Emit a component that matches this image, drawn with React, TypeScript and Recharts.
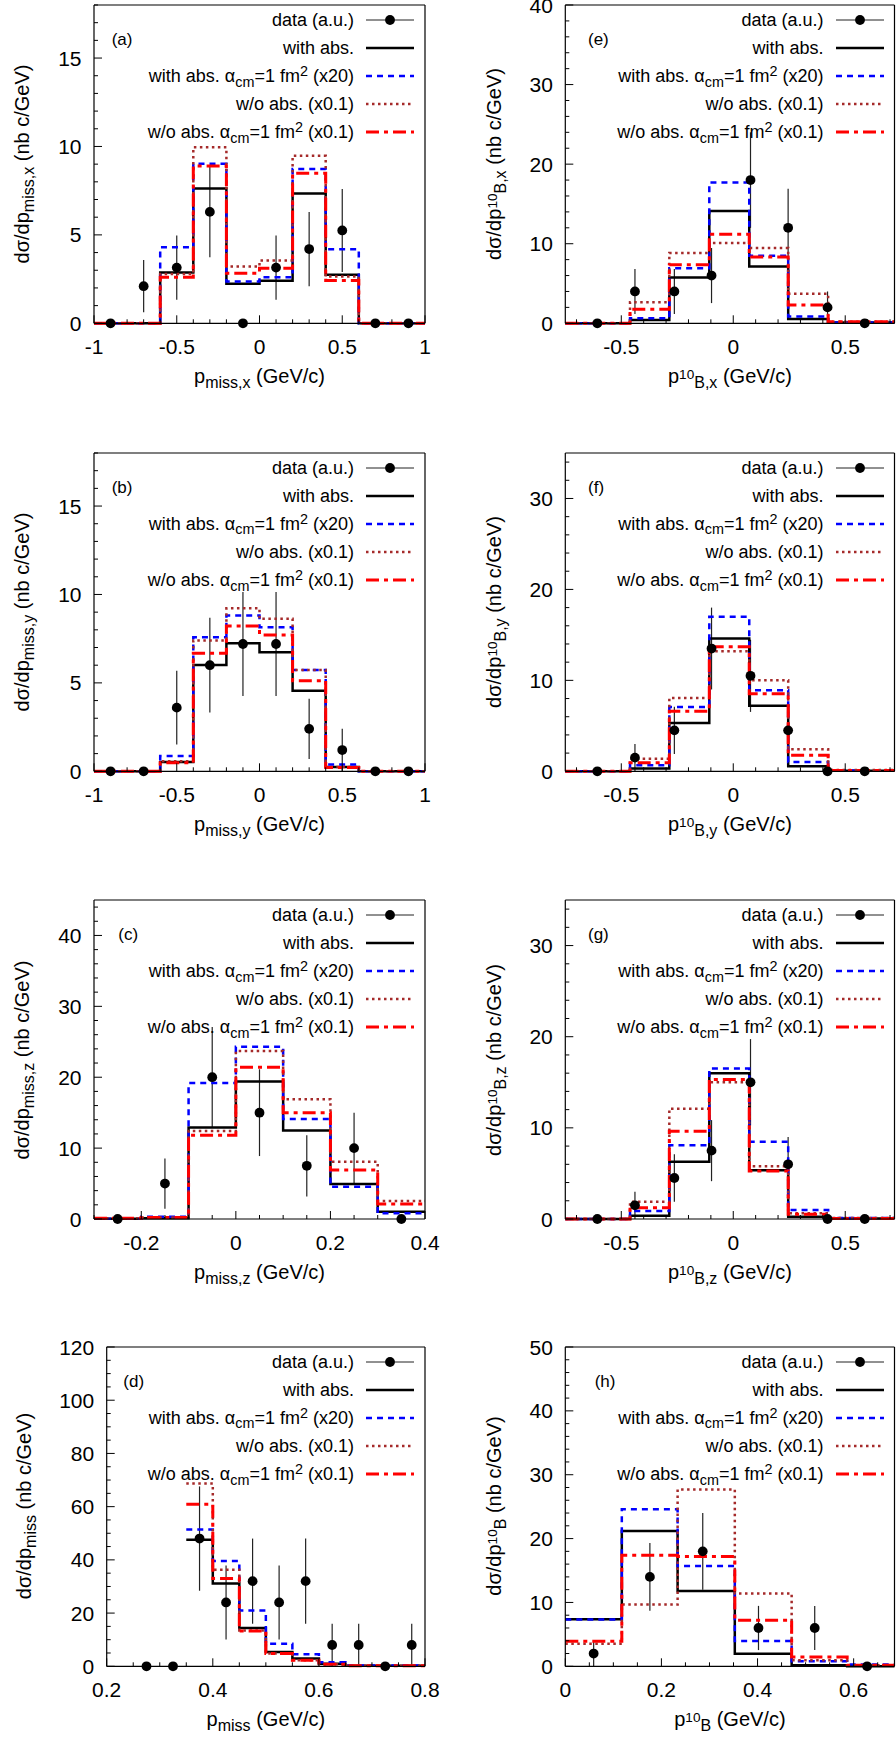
import React from 'react';
import { ComposedChart, Line, Scatter, ErrorBar, XAxis, YAxis } from 'recharts';

const FONT = '"Liberation Sans", Arial, Helvetica, sans-serif';

// key entries, gnuplot-like markup: _{sub} ^{sup}, ~{small raised prefix}
const seriesNames = [
  'data (a.u.)',
  'with abs.',
  'with abs. α_{cm}=1 fm^{2} (x20)',
  'w/o abs. (x0.1)',
  'w/o abs. α_{cm}=1 fm^{2} (x0.1)',
];

// (a) p_miss,x
const aEdges = [-1, -0.6, -0.4, -0.2, 0, 0.2, 0.4, 0.6, 1];
const aWith = [0, 2.87, 7.62, 2.23, 2.4, 7.34, 2.74, 0];
const aWithCm = [0, 4.3, 9.02, 2.36, 2.6, 8.72, 4.19, 0];
const aWo = [0, 2.79, 9.96, 3.21, 3.55, 9.47, 2.64, 0];
const aWoCm = [0, 2.6, 8.9, 2.83, 3.11, 8.49, 2.42, 0];
const aDataX = [-0.9, -0.7, -0.5, -0.3, -0.1, 0.1, 0.3, 0.5, 0.7, 0.9];
const aDataY = [0, 2.1, 3.15, 6.3, 0, 3.15, 4.2, 5.25, 0, 0];
const aDataErr = [0, 1.48, 1.82, 2.57, 0, 1.82, 2.1, 2.35, 0, 0];

// (b) p_miss,y
const bEdges = [-1, -0.6, -0.4, -0.2, 0, 0.2, 0.4, 0.6, 1];
const bWith = [0, 0.53, 6.01, 7.24, 6.73, 4.56, 0.25, 0];
const bWithCm = [0, 0.87, 7.58, 8.81, 8.15, 5.73, 0.38, 0];
const bWo = [0, 0.57, 7.39, 9.22, 8.62, 5.73, 0.25, 0];
const bWoCm = [0, 0.49, 6.67, 8.22, 7.71, 5.12, 0.21, 0];
const bDataX = [-0.9, -0.7, -0.5, -0.3, -0.1, 0.1, 0.3, 0.5, 0.7, 0.9];
const bDataY = [0, 0, 3.6, 6.0, 7.2, 7.2, 2.4, 1.2, 0, 0];
const bDataErr = [0, 0, 2.08, 2.68, 2.94, 2.94, 1.7, 1.2, 0, 0];

// (c) p_miss,z
const cEdges = [-0.3, -0.2, -0.1, 0, 0.1, 0.2, 0.3, 0.4];
const cWith = [0.05, 0.1, 12.9, 19.4, 12.5, 4.93, 1.03];
const cWithCm = [0.05, 0.33, 19.2, 24.3, 14.1, 4.55, 0.8];
const cWo = [0.1, 0.2, 12.4, 23.7, 16.9, 8.08, 2.54];
const cWoCm = [0.1, 0.2, 11.8, 21.4, 15.0, 6.9, 2.1];
const cDataX = [-0.25, -0.15, -0.05, 0.05, 0.15, 0.25, 0.35];
const cDataY = [0, 5, 20, 15, 7.5, 10, 0];
const cDataErr = [0, 3.54, 7.07, 6.12, 4.33, 5, 0];

// (d) p_miss
const dEdges = [0.35, 0.4, 0.45, 0.5, 0.55, 0.6, 0.65, 0.8];
const dWith = [47.6, 31.1, 14.4, 5.4, 2.9, 1.0, 0.2];
const dWithCm = [51.4, 39.6, 21.0, 8.5, 4.5, 1.5, 0.3];
const dWo = [68.7, 36.3, 13.5, 4.8, 2.3, 0.8, 0.2];
const dWoCm = [60.9, 33.0, 13.3, 4.8, 2.3, 0.8, 0.2];
const dDataX = [0.275, 0.325, 0.375, 0.425, 0.475, 0.525, 0.575, 0.625, 0.675, 0.725, 0.775];
const dDataY = [0, 0, 48, 24, 32, 24, 32, 8, 8, 0, 8];
const dDataErr = [0, 0, 19.6, 13.9, 16, 13.9, 16, 8, 8, 0, 8];

// (e) p_10B,x
const eEdges = [-0.75, -0.461, -0.2855, -0.107, 0.0714, 0.2453, 0.4237, 0.72];
const eWith = [0, 0.42, 5.76, 14.1, 7.14, 0.55, 0.1];
const eWithCm = [0, 0.63, 6.93, 17.7, 8.49, 0.84, 0.1];
const eWo = [0, 2.65, 8.82, 10.1, 9.45, 3.7, 0.2];
const eWoCm = [0, 1.76, 7.35, 11.2, 8.32, 2.31, 0.2];
const eDataX = [-0.607, -0.439, -0.263, -0.097, 0.077, 0.245, 0.421, 0.587];
const eDataY = [0, 4, 4, 6, 18, 12, 2, 0];
const eDataErr = [0, 2.83, 2.83, 3.46, 6, 4.9, 2, 0];

// (f) p_10B,y
const fEdges = [-0.75, -0.461, -0.2855, -0.107, 0.0714, 0.2453, 0.4237, 0.72];
const fWith = [0, 0.3, 5.3, 14.6, 7.2, 0.55, 0.05];
const fWithCm = [0, 0.66, 7.07, 17.0, 8.9, 1.03, 0.1];
const fWo = [0, 1.39, 8.06, 13.2, 10.0, 2.42, 0.15];
const fWoCm = [0, 0.95, 6.6, 13.7, 8.53, 1.76, 0.1];
const fDataX = [-0.607, -0.439, -0.263, -0.097, 0.077, 0.245, 0.421, 0.587];
const fDataY = [0, 1.5, 4.5, 13.5, 10.5, 4.5, 0, 0];
const fDataErr = [0, 1.5, 2.6, 4.5, 3.97, 2.6, 0, 0];

// (g) p_10B,z
const gEdges = [-0.75, -0.461, -0.2855, -0.107, 0.0714, 0.2453, 0.4237, 0.72];
const gWith = [0, 0.37, 6.28, 16.0, 5.36, 0.26, 0.05];
const gWithCm = [0, 0.88, 8.1, 16.5, 8.47, 0.99, 0.1];
const gWo = [0, 1.9, 12.1, 15.0, 5.8, 0.62, 0.1];
const gWoCm = [0, 1.24, 9.62, 15.3, 5.26, 0.51, 0.05];
const gDataX = [-0.607, -0.439, -0.263, -0.097, 0.077, 0.245, 0.421, 0.587];
const gDataY = [0, 1.5, 4.5, 7.5, 15, 6, 0, 0];
const gDataErr = [0, 1.5, 2.6, 3.35, 4.74, 3.0, 0, 0];

// (h) p_10B
const hEdges = [0, 0.1176, 0.2337, 0.3527, 0.471, 0.5865, 0.685];
const hWith = [7.36, 21.2, 11.8, 1.98, 0.16, 0];
const hWithCm = [7.31, 24.6, 15.7, 3.97, 0.78, 0.3];
const hWo = [3.55, 9.66, 27.7, 11.4, 0.94, 0.15];
const hWoCm = [3.92, 17.4, 17.2, 7.2, 1.46, 0.15];
const hDataX = [0.059, 0.176, 0.286, 0.402, 0.519, 0.628];
const hDataY = [2, 14, 18, 6, 6, 0];
const hDataErr = [2, 5.29, 6, 3.46, 3.46, 0];

const histStyles = [
  { stroke: '#000000', width: 2.5, dash: undefined as string | undefined },
  { stroke: '#0000ff', width: 2.5, dash: '6 5' },
  { stroke: '#a52a2a', width: 2.5, dash: '2.5 3.5' },
  { stroke: '#ff0000', width: 3, dash: '13 5 4 5' },
];

const markStyle: Record<string, React.CSSProperties> = {
  _: { fontSize: '0.8em', position: 'relative', top: '0.32em' },
  '^': { fontSize: '0.8em', position: 'relative', top: '-0.42em' },
  '~': { fontSize: '0.68em', position: 'relative', top: '-0.3em' },
};

function Rich({ text }: { text: string }) {
  const parts: React.ReactNode[] = [];
  let buf = '';
  let i = 0;
  let k = 0;
  while (i < text.length) {
    const c = text[i];
    if (markStyle[c] && text[i + 1] === '{') {
      if (buf) { parts.push(<span key={k++}>{buf}</span>); buf = ''; }
      const end = text.indexOf('}', i);
      parts.push(<span key={k++} style={markStyle[c]}>{text.slice(i + 2, end)}</span>);
      i = end + 1;
    } else {
      buf += c;
      i++;
    }
  }
  if (buf) parts.push(<span key={k++}>{buf}</span>);
  return <>{parts}</>;
}

const steps = (edges: number[], vals: number[]) => {
  const pts = vals.map((y, i) => ({ x: edges[i], y }));
  pts.push({ x: edges[edges.length - 1], y: vals[vals.length - 1] });
  return pts;
};

const tickList = (dom: number[], major: number[], minor: number) => {
  const out = [...major];
  const s = Math.ceil(dom[0] / minor - 1e-9);
  const e = Math.floor(dom[1] / minor + 1e-9);
  for (let k = s; k <= e; k++) {
    const v = +(k * minor).toFixed(6);
    if (!out.some((m) => Math.abs(m - v) < 1e-9)) out.push(v);
  }
  return out.sort((a, b) => a - b);
};

const isMaj = (v: number, arr: number[]) => arr.some((m) => Math.abs(m - v) < 1e-9);
const fmt = (v: number) => String(+v.toFixed(3));

type PanelDef = {
  tag: string; tagX: number;
  col: number; l: number; r: number; t: number; b: number;
  xDom: [number, number]; yDom: [number, number];
  xMajor: number[]; xMinor: number; yMajor: number[]; yMinor: number;
  edges: number[]; hist: number[][];
  dx: number[]; dy: number[]; de: number[];
  xTitle: string; yTitle: string; yTitleX: number;
};

const W = 448;
const TOPH = 10;
const BOTH = 45;
const MAJ = 8;
const MIN = 4;

const Dot = (props: any) => <circle cx={props.cx} cy={props.cy} r={4.9} fill="#000" />;

function LegendSample({ idx }: { idx: number }) {
  if (idx === 0) {
    return (
      <svg width={48} height={12} style={{ display: 'block' }}>
        <line x1={0} x2={48} y1={6} y2={6} stroke="#222" strokeWidth={1} />
        <circle cx={24} cy={6} r={4.9} fill="#000" />
      </svg>
    );
  }
  const s = histStyles[idx - 1];
  return (
    <svg width={48} height={12} style={{ display: 'block' }}>
      <line x1={0} x2={48} y1={6} y2={6} stroke={s.stroke} strokeWidth={s.width} strokeDasharray={s.dash} />
    </svg>
  );
}

function Panel({ p }: { p: PanelDef }) {
  const plotH = p.b - p.t;
  const chartH = TOPH + plotH + BOTH;
  const leftW = p.l - p.col;
  const rightM = p.col + W - p.r - 1;
  const xt = tickList(p.xDom, p.xMajor, p.xMinor);
  const yt = tickList(p.yDom, p.yMajor, p.yMinor);
  const axisLine = { stroke: '#000', strokeWidth: 1.2 };
  const pts = p.dx.map((x, i) => ({ x, y: p.dy[i], err: p.de[i] }));

  const bottomTick = (props: any) => {
    const { x, y, payload } = props;
    const m = isMaj(payload.value, p.xMajor);
    return (
      <g>
        <line x1={x} x2={x} y1={y} y2={y - (m ? MAJ : MIN)} stroke="#000" strokeWidth={1} />
        {m && (
          <text x={x} y={y + 23} textAnchor="middle" dominantBaseline="central" fontSize={21} fontFamily={FONT} fill="#000">
            {fmt(payload.value)}
          </text>
        )}
      </g>
    );
  };
  const topTick = (props: any) => {
    const { x, y, payload } = props;
    const m = isMaj(payload.value, p.xMajor);
    return <line x1={x} x2={x} y1={y} y2={y + (m ? MAJ : MIN)} stroke="#000" strokeWidth={1} />;
  };
  const leftTick = (props: any) => {
    const { x, y, payload } = props;
    const m = isMaj(payload.value, p.yMajor);
    return (
      <g>
        <line x1={x} x2={x + (m ? MAJ : MIN)} y1={y} y2={y} stroke="#000" strokeWidth={1} />
        {m && (
          <text x={x - 12.5} y={y} textAnchor="end" dominantBaseline="central" fontSize={21} fontFamily={FONT} fill="#000">
            {fmt(payload.value)}
          </text>
        )}
      </g>
    );
  };
  const rightTick = (props: any) => {
    const { x, y, payload } = props;
    const m = isMaj(payload.value, p.yMajor);
    return <line x1={x} x2={x - (m ? MAJ : MIN)} y1={y} y2={y} stroke="#000" strokeWidth={1} />;
  };

  const plotR = p.r - p.col;
  const rowY = (i: number) => TOPH + 15 + 28.1 * i;

  return (
    <div style={{ position: 'absolute', left: p.col, top: p.t - TOPH, width: W, height: chartH }}>
      <ComposedChart width={W} height={chartH} margin={{ top: 0, right: rightM, bottom: 0, left: 0 }}>
        <XAxis xAxisId="b" orientation="bottom" type="number" dataKey="x" domain={p.xDom} ticks={xt} interval={0}
          height={BOTH} tickSize={0} tickMargin={0} tickLine={false} axisLine={axisLine} tick={bottomTick} />
        <XAxis xAxisId="t" orientation="top" type="number" dataKey="x" domain={p.xDom} ticks={xt} interval={0}
          height={TOPH} tickSize={0} tickMargin={0} tickLine={false} axisLine={axisLine} tick={topTick} />
        <YAxis yAxisId="l" orientation="left" type="number" domain={p.yDom} ticks={yt} interval={0}
          width={leftW} tickSize={0} tickMargin={0} tickLine={false} axisLine={axisLine} tick={leftTick} />
        <YAxis yAxisId="r" orientation="right" type="number" domain={p.yDom} ticks={yt} interval={0}
          width={1} tickSize={0} tickMargin={0} tickLine={false} axisLine={axisLine} tick={rightTick} />
        <Scatter xAxisId="b" yAxisId="l" data={pts} dataKey="y" fill="#000" shape={Dot} isAnimationActive={false}>
          <ErrorBar dataKey="err" direction="y" width={0} stroke="#222" strokeWidth={1.2} />
        </Scatter>
        {p.hist.map((vals, i) => (
          <Line key={i} xAxisId="b" yAxisId="l" data={steps(p.edges, vals)} dataKey="y" type="stepAfter"
            stroke={histStyles[i].stroke} strokeWidth={histStyles[i].width} strokeDasharray={histStyles[i].dash}
            dot={false} activeDot={false} isAnimationActive={false} />
        ))}
      </ComposedChart>

      <div style={{ position: 'absolute', left: p.tagX - p.col, top: TOPH + 34, transform: 'translateY(-50%)', fontSize: 17, lineHeight: 1 }}>
        {p.tag}
      </div>

      {seriesNames.map((name, i) => (
        <React.Fragment key={i}>
          <div style={{ position: 'absolute', right: W - (plotR - 71), top: rowY(i), transform: 'translateY(-50%)', fontSize: 18, lineHeight: 1, whiteSpace: 'nowrap' }}>
            <Rich text={name} />
          </div>
          <div style={{ position: 'absolute', left: plotR - 59, top: rowY(i) - 6 }}>
            <LegendSample idx={i} />
          </div>
        </React.Fragment>
      ))}

      <div style={{ position: 'absolute', left: (p.l + p.r) / 2 - p.col, top: TOPH + plotH + 53, transform: 'translate(-50%, -50%)', fontSize: 20, lineHeight: 1, whiteSpace: 'nowrap' }}>
        <Rich text={p.xTitle} />
      </div>
      <div style={{ position: 'absolute', left: p.yTitleX - p.col, top: TOPH + plotH / 2, transform: 'translate(-50%, -50%) rotate(-90deg)', fontSize: 20, lineHeight: 1, whiteSpace: 'nowrap' }}>
        <Rich text={p.yTitle} />
      </div>
    </div>
  );
}

const rows = [[5, 323.3], [452.7, 771], [900, 1219], [1346.7, 1666]];

const panels: PanelDef[] = [
  {
    tag: '(a)', tagX: 111.7, col: 0, l: 94, r: 425, t: rows[0][0], b: rows[0][1],
    xDom: [-1, 1], yDom: [0, 18], xMajor: [-1, -0.5, 0, 0.5, 1], xMinor: 0.1, yMajor: [0, 5, 10, 15], yMinor: 1,
    edges: aEdges, hist: [aWith, aWithCm, aWo, aWoCm], dx: aDataX, dy: aDataY, de: aDataErr,
    xTitle: 'p_{miss,x} (GeV/c)', yTitle: 'dσ/dp_{miss,x} (nb c/GeV)', yTitleX: 22,
  },
  {
    tag: '(b)', tagX: 111.7, col: 0, l: 94, r: 425, t: rows[1][0], b: rows[1][1],
    xDom: [-1, 1], yDom: [0, 18], xMajor: [-1, -0.5, 0, 0.5, 1], xMinor: 0.1, yMajor: [0, 5, 10, 15], yMinor: 1,
    edges: bEdges, hist: [bWith, bWithCm, bWo, bWoCm], dx: bDataX, dy: bDataY, de: bDataErr,
    xTitle: 'p_{miss,y} (GeV/c)', yTitle: 'dσ/dp_{miss,y} (nb c/GeV)', yTitleX: 22,
  },
  {
    tag: '(c)', tagX: 118.3, col: 0, l: 94, r: 425, t: rows[2][0], b: rows[2][1],
    xDom: [-0.3, 0.4], yDom: [0, 45], xMajor: [-0.2, 0, 0.2, 0.4], xMinor: 0.05, yMajor: [0, 10, 20, 30, 40], yMinor: 2,
    edges: cEdges, hist: [cWith, cWithCm, cWo, cWoCm], dx: cDataX, dy: cDataY, de: cDataErr,
    xTitle: 'p_{miss,z} (GeV/c)', yTitle: 'dσ/dp_{miss,z} (nb c/GeV)', yTitleX: 22,
  },
  {
    tag: '(d)', tagX: 123.3, col: 0, l: 106.7, r: 425, t: rows[3][0], b: rows[3][1],
    xDom: [0.2, 0.8], yDom: [0, 120], xMajor: [0.2, 0.4, 0.6, 0.8], xMinor: 0.05, yMajor: [0, 20, 40, 60, 80, 100, 120], yMinor: 5,
    edges: dEdges, hist: [dWith, dWithCm, dWo, dWoCm], dx: dDataX, dy: dDataY, de: dDataErr,
    xTitle: 'p_{miss} (GeV/c)', yTitle: 'dσ/dp_{miss} (nb c/GeV)', yTitleX: 24,
  },
  {
    tag: '(e)', tagX: 588, col: 448, l: 565.3, r: 894.5, t: rows[0][0], b: rows[0][1],
    xDom: [-0.75, 0.72], yDom: [0, 40], xMajor: [-0.5, 0, 0.5], xMinor: 0.1, yMajor: [0, 10, 20, 30, 40], yMinor: 2,
    edges: eEdges, hist: [eWith, eWithCm, eWo, eWoCm], dx: eDataX, dy: eDataY, de: eDataErr,
    xTitle: 'p~{10}_{B,x} (GeV/c)', yTitle: 'dσ/dp~{10}_{B,x} (nb c/GeV)', yTitleX: 494,
  },
  {
    tag: '(f)', tagX: 588, col: 448, l: 565.3, r: 894.5, t: rows[1][0], b: rows[1][1],
    xDom: [-0.75, 0.72], yDom: [0, 35], xMajor: [-0.5, 0, 0.5], xMinor: 0.1, yMajor: [0, 10, 20, 30], yMinor: 2,
    edges: fEdges, hist: [fWith, fWithCm, fWo, fWoCm], dx: fDataX, dy: fDataY, de: fDataErr,
    xTitle: 'p~{10}_{B,y} (GeV/c)', yTitle: 'dσ/dp~{10}_{B,y} (nb c/GeV)', yTitleX: 494,
  },
  {
    tag: '(g)', tagX: 588, col: 448, l: 565.3, r: 894.5, t: rows[2][0], b: rows[2][1],
    xDom: [-0.75, 0.72], yDom: [0, 35], xMajor: [-0.5, 0, 0.5], xMinor: 0.1, yMajor: [0, 10, 20, 30], yMinor: 2,
    edges: gEdges, hist: [gWith, gWithCm, gWo, gWoCm], dx: gDataX, dy: gDataY, de: gDataErr,
    xTitle: 'p~{10}_{B,z} (GeV/c)', yTitle: 'dσ/dp~{10}_{B,z} (nb c/GeV)', yTitleX: 494,
  },
  {
    tag: '(h)', tagX: 594.7, col: 448, l: 565.3, r: 894.5, t: rows[3][0], b: rows[3][1],
    xDom: [0, 0.685], yDom: [0, 50], xMajor: [0, 0.2, 0.4, 0.6], xMinor: 0.05, yMajor: [0, 10, 20, 30, 40, 50], yMinor: 2,
    edges: hEdges, hist: [hWith, hWithCm, hWo, hWoCm], dx: hDataX, dy: hDataY, de: hDataErr,
    xTitle: 'p~{10}_{B} (GeV/c)', yTitle: 'dσ/dp~{10}_{B} (nb c/GeV)', yTitleX: 494,
  },
];

export default function App() {
  return (
    <div style={{ position: 'absolute', left: 0, top: 0, width: 896, height: 1737, overflow: 'hidden', background: '#fff', fontFamily: FONT, color: '#000' }}>
      {panels.map((p) => (
        <Panel key={p.tag} p={p} />
      ))}
    </div>
  );
}
